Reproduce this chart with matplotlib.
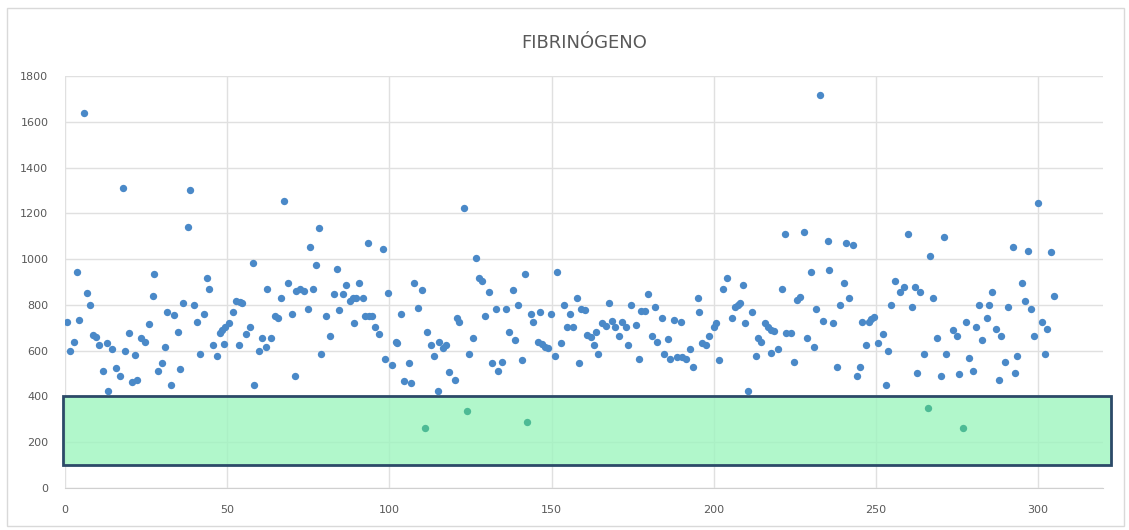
import matplotlib.pyplot as plt
from matplotlib.patches import Rectangle

# Fibrinógeno por paciente (índice, valor mg/dL)
pac_x = [0.5, 1.6, 2.8, 3.8, 4.3, 5.7, 6.7, 7.7, 8.7, 9.5, 10.6, 11.8, 12.9, 13.4, 14.6,
         15.6, 16.8, 18.0, 18.5, 19.7, 20.6, 21.7, 22.2, 23.5, 24.7, 25.8, 27.0, 27.5, 28.7,
         29.8, 30.9, 31.4, 32.6, 33.6, 34.9, 35.4, 36.5, 37.9, 38.6, 39.8, 40.6, 41.7, 42.9,
         43.9, 44.4, 45.6, 46.8, 47.7, 48.5, 49.1, 49.4, 50.4, 51.8, 52.7, 53.5, 53.8, 54.6,
         55.8, 56.9, 58.0, 58.4, 59.7, 60.8, 62.0, 62.4, 63.6, 64.6, 65.8, 66.5, 67.5, 68.7,
         69.9, 71.0, 71.3, 72.5, 73.7, 75.0, 75.4, 76.5, 77.5, 78.2, 79.0, 80.6, 81.6, 82.8,
         83.9, 84.4, 85.6, 86.7, 87.8, 88.7, 89.0, 89.7, 90.5, 91.9, 92.6, 93.4, 93.6, 94.6,
         95.7, 96.7, 97.9, 98.6, 99.7, 100.9, 101.9, 102.4, 103.6, 104.6, 105.9, 106.7, 107.6,
         108.7, 109.9, 111.5, 112.7, 113.7, 114.9, 115.4, 116.6, 117.5, 118.5, 120.1, 120.9,
         121.6, 122.9, 124.5, 125.7, 126.8, 127.6, 128.6, 129.6, 130.7, 131.7, 132.9, 133.5,
         134.6, 135.8, 136.8, 138.1, 138.6, 139.7, 141.0, 141.8, 143.7, 144.4, 145.8, 146.4,
         147.1, 148.1, 149.0, 149.9, 150.9, 151.6, 152.8, 153.8, 154.8, 155.6, 156.6, 157.7,
         158.4, 159.0, 160.2, 161.0, 162.0, 163.1, 163.8, 164.4, 165.6, 166.7, 167.7, 168.7,
         169.5, 170.8, 171.8, 172.8, 173.6, 174.6, 175.9, 176.9, 177.5, 178.7, 179.7, 181.0,
         181.9, 182.5, 183.9, 184.8, 186.0, 186.6, 187.6, 188.7, 189.9, 190.3, 191.4, 192.7,
         193.7, 195.0, 195.5, 196.3, 197.5, 198.6, 200.1, 200.8, 201.6, 202.7, 204.0, 205.6,
         206.6, 207.4, 208.1, 209.1, 209.7, 210.7, 211.9, 213.0, 213.5, 214.5, 215.8, 216.6,
         217.6, 217.6, 218.6, 219.8, 221.0, 222.0, 222.2, 223.8, 224.8, 225.8, 226.6, 227.7,
         228.8, 229.9, 231.0, 231.5, 232.7, 233.7, 235.1, 235.6, 236.6, 237.9, 238.9, 240.1,
         240.7, 241.8, 243.0, 244.0, 245.0, 245.6, 246.9, 247.9, 248.6, 249.5, 250.7, 252.1,
         253.1, 253.6, 254.6, 255.9, 257.5, 258.5, 259.8, 261.1, 262.0, 262.6, 263.7, 264.8,
         266.7, 267.7, 268.8, 270.0, 270.9, 271.6, 273.9, 274.9, 275.7, 277.8, 278.8, 280.0,
         280.9, 281.9, 282.7, 284.2, 284.7, 285.7, 287.0, 287.9, 288.6, 289.8, 290.8, 292.1,
         293.0, 293.6, 295.0, 295.9, 296.9, 297.7, 298.8, 299.8, 301.1, 302.2, 302.7, 303.9,
         304.9]
pac_y = [725, 598, 638, 944, 735, 1637, 853, 798, 668, 661, 623, 511, 632, 422, 609,
         523, 489, 1309, 598, 679, 463, 582, 472, 657, 639, 716, 837, 933, 513,
         545, 616, 767, 448, 757, 680, 521, 808, 1140, 1301, 799, 727, 584, 759,
         917, 871, 623, 577, 677, 690, 630, 705, 719, 767, 817, 623, 811, 807,
         671, 705, 981, 448, 598, 657, 614, 871, 657, 751, 743, 830, 1254, 894,
         759, 489, 861, 869, 861, 783, 1054, 871, 975, 1134, 586, 751, 663, 847,
         958, 778, 847, 887, 818, 829, 719, 831, 894, 830, 751, 1072, 751, 751,
         705, 671, 1046, 562, 853, 536, 639, 632, 759, 466, 545, 457, 897,
         785, 865, 680, 623, 577, 424, 639, 613, 623, 506, 472, 741,
         727, 1222, 584, 657, 1006, 919, 904, 751, 855, 545, 783, 511,
         550, 783, 680, 865, 647, 799, 561, 935, 759, 727, 639, 769,
         629, 617, 612, 759, 577, 944, 632, 798, 702, 759, 702, 830,
         545, 783, 778, 668, 661, 623, 680, 584, 719, 708, 807, 731,
         705, 664, 725, 702, 623, 798, 711, 562, 775, 775, 847, 665,
         789, 639, 743, 585, 649, 562, 734, 571, 727, 571, 562, 609,
         530, 830, 767, 635, 623, 664, 705, 719, 559, 871, 919, 743,
         791, 799, 810, 885, 719, 422, 767, 577, 657, 639, 719, 702,
         588, 692, 687, 609, 871, 1110, 679, 679, 550, 821, 833, 1117,
         657, 944, 614, 783, 1715, 731, 1078, 952, 719, 530, 799, 894,
         1072, 830, 1062, 489, 530, 727, 623, 727, 737, 746, 632, 671,
         448, 600, 799, 904, 856, 880, 1110, 789, 880, 504, 856, 584,
         1015, 830, 657, 489, 1095, 584, 690, 664, 498, 727, 566, 511,
         705, 798, 647, 741, 798, 856, 696, 472, 664, 550, 789, 1054,
         504, 577, 894, 818, 1037, 783, 664, 1244, 727, 584, 696, 1029,
         837]

# Valores dentro del rango de referencia
rango_x = [110.9, 124.0, 142.5, 265.9, 276.8]
rango_y = [264, 338, 288, 351, 264]

ref_min, ref_max = 100, 400
x_ticks = [0, 50, 100, 150, 200, 250, 300]
y_ticks = [0, 200, 400, 600, 800, 1000, 1200, 1400, 1600, 1800]

fig = plt.figure(figsize=(11.29, 5.30), dpi=100)
fig.patches.append(Rectangle((0.006, 0.008), 0.99, 0.976, transform=fig.transFigure,
                             fill=False, edgecolor='#d9d9d9', linewidth=1))
ax = fig.add_axes([0.0576, 0.0792, 0.9194, 0.7774])

# franja del rango normal (semitransparente, deja ver la rejilla)
ax.add_patch(Rectangle((-0.5, ref_min), 323, ref_max - ref_min, facecolor=(0.62, 0.96, 0.75, 0.8),
                       edgecolor='#2c4a68', linewidth=2, zorder=2, clip_on=False))

ax.scatter(pac_x, pac_y, s=28, color='#4a89c8', zorder=3, linewidths=0)
ax.scatter(rango_x, rango_y, s=28, color='#4dbb95', zorder=3, linewidths=0)

ax.set_xlim(0, 320)
ax.set_ylim(0, 1800)
ax.set_xticks(x_ticks)
ax.set_yticks(y_ticks)
ax.grid(True, color='#e0e0e0', linewidth=1, zorder=0)
ax.set_axisbelow(True)
for s in ['top', 'right', 'left']:
    ax.spines[s].set_visible(False)
ax.spines['bottom'].set_color('#d0d0d0')
ax.tick_params(length=0, labelsize=8, colors='#595959', pad=12)

ax.set_title('FIBRINÓGENO', fontsize=13, color='#595959', pad=20)

fig.savefig('out.png', dpi=100)
